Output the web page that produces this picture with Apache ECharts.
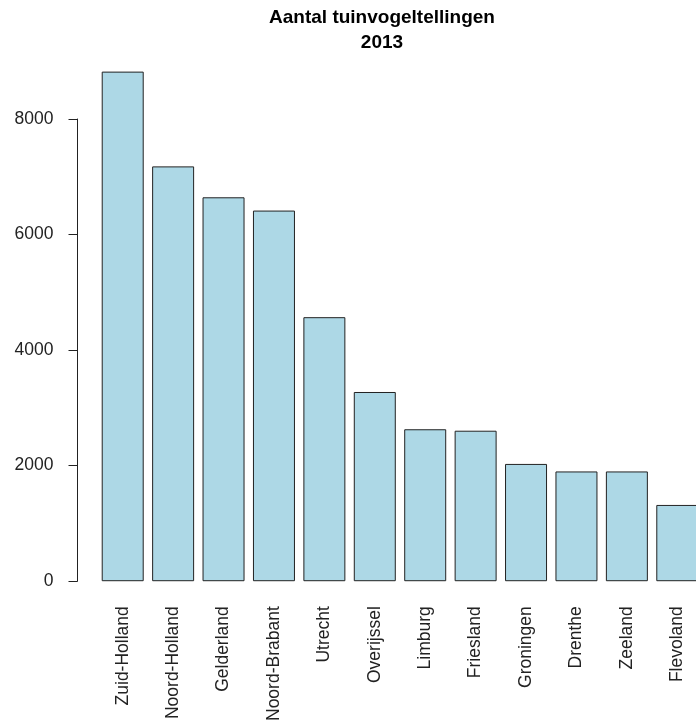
<!DOCTYPE html>
<html>
<head>
<meta charset="utf-8">
<script src="https://cdn.jsdelivr.net/npm/echarts@6/dist/echarts.min.js"></script>
<style>
html,body{margin:0;padding:0;background:#fff;overflow:hidden;width:696px;height:724px;}
#c{width:712px;height:724px;}
</style>
</head>
<body>
<div id="c"></div>
<script>
var provinces = ['Zuid-Holland','Noord-Holland','Gelderland','Noord-Brabant','Utrecht','Overijssel','Limburg','Friesland','Groningen','Drenthe','Zeeland','Flevoland'];
var counts = [8820, 7180, 6645, 6415, 4570, 3275, 2630, 2605, 2030, 1900, 1900, 1320];
var yTicks = [0, 2000, 4000, 6000, 8000];
var titleText = 'Aantal tuinvogeltellingen\n2013';

var font = '"Liberation Sans", Arial, sans-serif';
var chart = echarts.init(document.getElementById('c'), null, {renderer: 'canvas'});
chart.setOption({
  animation: false,
  backgroundColor: '#ffffff',
  title: {
    text: titleText,
    left: 377,
    top: 0,
    textAlign: 'center',
    textStyle: {fontFamily: font, fontSize: 19, fontWeight: 'bold', color: '#000', lineHeight: 25}
  },
  grid: {left: 97.5, width: 605, top: 119, bottom: 141.7, containLabel: false},
  xAxis: {
    type: 'category',
    data: provinces,
    axisLine: {show: false},
    axisTick: {show: false},
    axisLabel: {rotate: 90, interval: 0, margin: 25, fontFamily: font, fontSize: 17.5, color: '#222'}
  },
  yAxis: {
    type: 'value',
    min: yTicks[0],
    max: yTicks[yTicks.length - 1],
    interval: 2000,
    offset: 20,
    splitLine: {show: false},
    axisLine: {show: true, lineStyle: {color: '#222', width: 1}},
    axisTick: {show: true, length: 9, lineStyle: {color: '#222', width: 1}},
    axisLabel: {margin: 24, fontFamily: font, fontSize: 17.5, color: '#222', formatter: function (v) { return String(v); }}
  },
  series: [{
    type: 'bar',
    data: counts,
    clip: false,
    barWidth: '83.3%',
    itemStyle: {color: '#ADD8E6', borderColor: '#222', borderWidth: 1}
  }]
});
</script>
</body>
</html>
